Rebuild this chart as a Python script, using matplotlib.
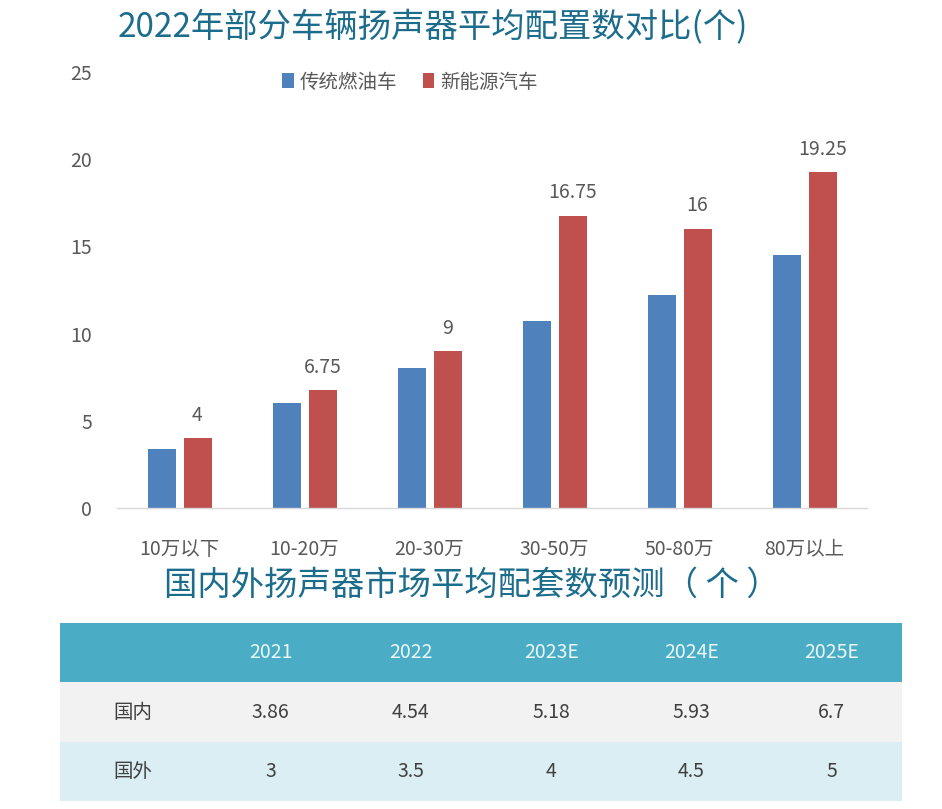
import matplotlib
matplotlib.use("Agg")
import matplotlib.pyplot as plt
import numpy as np

plt.rcParams['font.family'] = ['Noto Sans CJK SC', 'DejaVu Sans']

# ---- data ----
categories = ["10万以下", "10-20万", "20-30万", "30-50万", "50-80万", "80万以上"]
fuel_values = [3.4, 6.0, 8.0, 10.7, 12.2, 14.5]
nev_values = [4, 6.75, 9, 16.75, 16, 19.25]
nev_labels = ["4", "6.75", "9", "16.75", "16", "19.25"]
series_names = ["传统燃油车", "新能源汽车"]
y_ticks = [0, 5, 10, 15, 20, 25]

table_years = ["2021", "2022", "2023E", "2024E", "2025E"]
table_rows = ["国内", "国外"]
domestic = ["3.86", "4.54", "5.18", "5.93", "6.7"]
overseas = ["3", "3.5", "4", "4.5", "5"]

title1 = "2022年部分车辆扬声器平均配置数对比(个)"
title2 = "国内外扬声器市场平均配套数预测（ 个 ）"

# ---- style ----
W, H = 942, 809
BLUE = "#4F81BD"
RED = "#C0504D"
TEAL = "#1C6C8C"
GRAY = "#595959"

fig = plt.figure(figsize=(W / 100, H / 100), dpi=100)
fig.patch.set_facecolor("white")

def fx(px):
    return px / W

def fy(py):
    return 1 - py / H

# ---- bar chart ----
ax = fig.add_axes([fx(117), fy(508), fx(867) - fx(117), fy(72) - fy(508)])
x = np.arange(len(categories))
bw = 0.224
gap = 0.064
off = (bw + gap) / 2
b1 = ax.bar(x - off, fuel_values, bw, color=BLUE, label=series_names[0])
b2 = ax.bar(x + off, nev_values, bw, color=RED, label=series_names[1])
for rect, lab in zip(b2, nev_labels):
    ax.annotate(lab, (rect.get_x() + rect.get_width() / 2, rect.get_height()),
                xytext=(0, 9), textcoords="offset points", ha="center", va="bottom",
                fontsize=14, color=GRAY)
ax.set_xlim(-0.5, len(categories) - 0.5)
ax.set_ylim(0, 25)
ax.set_yticks(y_ticks)
ax.set_yticklabels([str(t) for t in y_ticks])
ax.set_xticks(x)
ax.set_xticklabels(categories)
ax.tick_params(axis="y", length=0, pad=18, labelsize=14, labelcolor=GRAY)
ax.tick_params(axis="x", length=0, pad=22, labelsize=14, labelcolor=GRAY)
for s in ["top", "right", "left"]:
    ax.spines[s].set_visible(False)
ax.spines["bottom"].set_color("#D9D9D9")
ax.spines["bottom"].set_linewidth(1.0)

fig.legend(handles=[b1, b2], labels=series_names, loc="center",
           bbox_to_anchor=(fx(410), fy(82)), ncol=2, frameon=False,
           fontsize=14, labelcolor=GRAY,
           handlelength=0.6, handleheight=0.8,
           handletextpad=0.3, columnspacing=1.3)

fig.text(fx(433), fy(27), title1, ha="center", va="center", fontsize=24, color=TEAL)
fig.text(fx(472), fy(585), title2, ha="center", va="center", fontsize=24, color=TEAL)

# ---- table ----
tx = fig.add_axes([fx(60), fy(801), fx(902) - fx(60), fy(623) - fy(801)])
tx.set_xlim(0, 6)
tx.set_ylim(3, 0)
tx.axis("off")
row_colors = ["#4BACC6", "#F2F2F2", "#DAEEF3"]
for r, c in enumerate(row_colors):
    tx.axhspan(r, r + 1, color=c, lw=0)
for j, yr in enumerate(table_years):
    tx.text(j + 1.5, 0.5, yr, ha="center", va="center", fontsize=14, color="#EAF8FB")
for i, (name, vals) in enumerate(zip(table_rows, [domestic, overseas])):
    tx.text(0.38, i + 1.5, name, ha="left", va="center", fontsize=14, color="#404040")
    for j, v in enumerate(vals):
        tx.text(j + 1.5, i + 1.5, v, ha="center", va="center", fontsize=14, color="#404040")

fig.savefig("out.png", dpi=100, facecolor="white")
